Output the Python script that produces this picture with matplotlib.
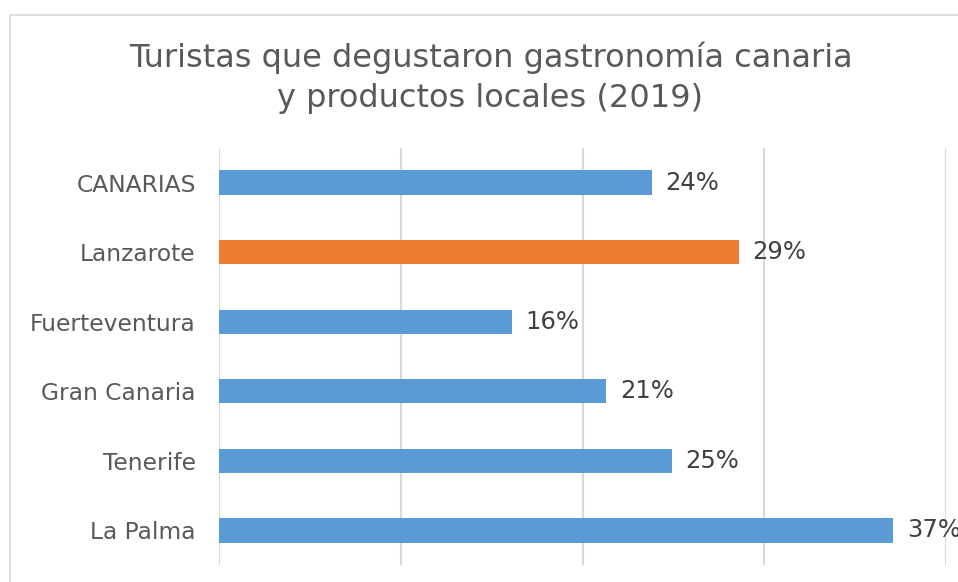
import matplotlib.pyplot as plt
from matplotlib.patches import Rectangle

islas = ['CANARIAS', 'Lanzarote', 'Fuerteventura', 'Gran Canaria', 'Tenerife', 'La Palma']
valores = [0.238, 0.286, 0.161, 0.213, 0.249, 0.371]
etiquetas = ['24%', '29%', '16%', '21%', '25%', '37%']
colores = ['#5B9BD5', '#ED7D31', '#5B9BD5', '#5B9BD5', '#5B9BD5', '#5B9BD5']

plt.rcParams['font.family'] = ['DejaVu Sans']

fig = plt.figure(figsize=(9.58, 5.82), dpi=100)
ax = fig.add_axes([0.229, 0.029, 0.7584, 0.717])

# chart border (cropped on right and bottom in the original)
fig.patches.append(Rectangle((10 / 958, -0.05), 1.2, 1 - 15 / 582 + 0.05,
                             transform=fig.transFigure, fill=False,
                             edgecolor='#D9D9D9', linewidth=1.2))

y = list(range(len(islas)))
ax.barh(y, valores, height=0.35, color=colores, zorder=3)
for yi, v, t in zip(y, valores, etiquetas):
    ax.text(v + 0.0075, yi, t, va='center', ha='left', fontsize=17.5,
            color='#404040', clip_on=False)

ax.set_xlim(0, 0.4)
ax.set_ylim(5.5, -0.5)
ax.set_yticks(y)
ax.set_yticklabels(islas, fontsize=16.8, color='#595959')
ax.set_xticks([0, 0.1, 0.2, 0.3, 0.4])
ax.tick_params(axis='x', labelbottom=False, length=0)
ax.tick_params(axis='y', length=0, pad=17)
ax.grid(axis='x', color='#D9D9D9', linewidth=1.5, zorder=0)
for s in ax.spines.values():
    s.set_visible(False)

fig.text(0.512, 0.866, 'Turistas que degustaron gastronomía canaria\ny productos locales (2019)',
         ha='center', va='center', fontsize=23, color='#595959', linespacing=1.37)

fig.savefig('out.png', dpi=100)
